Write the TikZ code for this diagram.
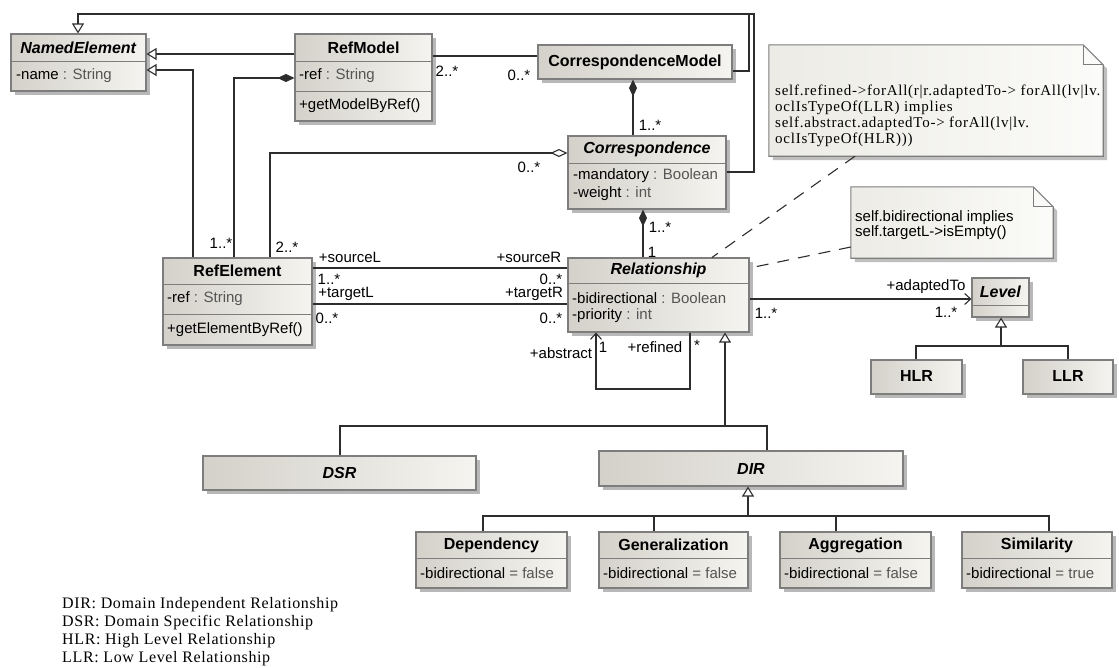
\documentclass[tikz,border=0pt]{standalone}
\usepackage{fontspec}
\setmainfont{Liberation Sans}
\newfontfamily\serifnote[LetterSpace=5]{Liberation Serif}
\newfontfamily\legendfont[LetterSpace=4]{Liberation Serif}
\usetikzlibrary{arrows.meta,shadows,fit}
\definecolor{clsA}{RGB}{212,209,202}
\definecolor{clsB}{RGB}{245,244,240}
\definecolor{noteA}{RGB}{236,235,229}
\definecolor{noteB}{RGB}{251,251,249}
\definecolor{edgec}{RGB}{125,125,125}
\definecolor{lnc}{RGB}{45,45,45}
\definecolor{typc}{RGB}{85,85,85}
\tikzset{
  cls/.style={draw=edgec, line width=1.1pt, left color=clsA, right color=clsB, inner sep=0pt,
    drop shadow={shadow xshift=4pt, shadow yshift=-4pt, fill=black!28, opacity=1}},
  notebg/.style={draw=edgec, line width=1.1pt, left color=noteA, right color=noteB,
    drop shadow={shadow xshift=4pt, shadow yshift=-4pt, fill=black!25, opacity=1}},
  fold/.style={draw=edgec, line width=1.1pt},
  divl/.style={draw=edgec, line width=1pt},
  ttl/.style={font=\fontsize{16}{18}\selectfont\bfseries, inner sep=0pt, text=black},
  attr/.style={font=\fontsize{15}{17}\selectfont, inner sep=0pt, anchor=west},
  lbl/.style={font=\fontsize{15}{17}\selectfont, inner sep=0pt},
  ntxt/.style={font=\serifnote\fontsize{15}{16}\selectfont, inner sep=0pt, anchor=west},
  ntxs/.style={font=\fontsize{15}{16}\selectfont, inner sep=0pt, anchor=west},
  lgd/.style={font=\legendfont\fontsize{16}{18}\selectfont, inner sep=0pt, anchor=west},
  conn/.style={draw=lnc, line width=1.1pt},
  gen/.style={conn, -{Triangle[fill=white, width=12pt, length=10pt]}},
  nav/.style={conn, -{Straight Barb[length=6pt, width=11pt]}},
  comp/.style={conn, {Diamond[length=17pt, width=8pt]}-},
  aggr/.style={conn, {Diamond[fill=white, length=17pt, width=8pt]}-},
  dashl/.style={draw=lnc, line width=1.1pt, dash pattern=on 12pt off 9pt},
  box/.style={inner sep=0pt}
}
\newcommand{\ty}[1]{{\color{typc}#1}}
\begin{document}
\begin{tikzpicture}[x=1pt,y=-1pt]
\fill[white] (0,0) rectangle (1119,667);
\useasboundingbox (0,0) rectangle (1119,667);

% ---------- classes ----------
% NamedElement
\node[cls, fit={(11,34) (146,91)}] (ne) {};
\draw[divl] (ne.west |- 0,61) -- (ne.east |- 0,61);
\node[ttl] (ne-t) at (78.5,47.5) {\textit{NamedElement}};
\node[attr] (ne-a) at (16,76) {-name \ty{: String}};

% RefModel
\node[cls, fit={(295,34) (432,121)}] (rm) {};
\draw[divl] (rm.west |- 0,61) -- (rm.east |- 0,61);
\draw[divl] (rm.west |- 0,91) -- (rm.east |- 0,91);
\node[ttl] (rm-t) at (363.5,47.5) {RefModel};
\node[attr] (rm-a) at (299,76) {-ref \ty{: String}};
\node[attr] (rm-o) at (299,106) {+getModelByRef()};

% CorrespondenceModel
\node[cls, fit={(538,45) (732,79)}] (cm) {};
\node[ttl] (cm-t) at (635,62) {CorrespondenceModel};

% Correspondence
\node[cls, fit={(568,136) (726,209)}] (co) {};
\draw[divl] (co.west |- 0,163) -- (co.east |- 0,163);
\node[ttl] (co-t) at (647,149.5) {\textit{Correspondence}};
\node[attr] (co-a1) at (573,176) {-mandatory \ty{: Boolean}};
\node[attr] (co-a2) at (573,194) {-weight \ty{: int}};

% RefElement
\node[cls, fit={(163,258) (312,345)}] (re) {};
\draw[divl] (re.west |- 0,284) -- (re.east |- 0,284);
\draw[divl] (re.west |- 0,314) -- (re.east |- 0,314);
\node[ttl] (re-t) at (237.5,271) {RefElement};
\node[attr] (re-a) at (167,299) {-ref \ty{: String}};
\node[attr] (re-o) at (167,330) {+getElementByRef()};

% Relationship
\node[cls, fit={(568,258) (749,332)}] (rel) {};
\draw[divl] (rel.west |- 0,283) -- (rel.east |- 0,283);
\node[ttl] (rel-t) at (658.5,270.5) {\textit{Relationship}};
\node[attr] (rel-a1) at (572,298) {-bidirectional \ty{: Boolean}};
\node[attr] (rel-a2) at (572,316) {-priority \ty{: int}};

% Level
\node[cls, fit={(972,278) (1029,317)}] (lv) {};
\draw[divl] (lv.west |- 0,305) -- (lv.east |- 0,305);
\node[ttl] (lv-t) at (1000.5,291.5) {\textit{Level}};

% HLR, LLR
\node[cls, fit={(871,360) (962,394)}] (hlr) {};
\node[ttl] (hlr-t) at (916.5,376) {HLR};
\node[cls, fit={(1023,360) (1113,394)}] (llr) {};
\node[ttl] (llr-t) at (1068,376) {LLR};

% DSR, DIR
\node[cls, fit={(203,456) (476,490)}] (dsr) {};
\node[ttl] (dsr-t) at (339.5,473) {\textit{DSR}};
\node[cls, fit={(599,451) (903,486)}] (dir) {};
\node[ttl] (dir-t) at (751,468.5) {\textit{DIR}};

% bottom row
\node[cls, fit={(416,532) (567,588)}] (dep) {};
\draw[divl] (dep.west |- 0,558) -- (dep.east |- 0,558);
\node[ttl] (dep-t) at (491.5,545) {Dependency};
\node[attr] (dep-a) at (420,573) {-bidirectional \ty{= false}};

\node[cls, fit={(599,532) (748,588)}] (gz) {};
\draw[divl] (gz.west |- 0,558) -- (gz.east |- 0,558);
\node[ttl] (gz-t) at (673.5,545) {Generalization};
\node[attr] (gz-a) at (603,573) {-bidirectional \ty{= false}};

\node[cls, fit={(780,532) (931,588)}] (ag) {};
\draw[divl] (ag.west |- 0,558) -- (ag.east |- 0,558);
\node[ttl] (ag-t) at (855.5,545) {Aggregation};
\node[attr] (ag-a) at (784,573) {-bidirectional \ty{= false}};

\node[cls, fit={(962,532) (1112,588)}] (sim) {};
\draw[divl] (sim.west |- 0,558) -- (sim.east |- 0,558);
\node[ttl] (sim-t) at (1037,545) {Similarity};
\node[attr] (sim-a) at (966,573) {-bidirectional \ty{= true}};

% ---------- notes ----------
\node[box, fit={(769,45) (1103,156)}] (n1) {};
\draw[notebg] (n1.north west) -- ([xshift=-20pt]n1.north east) -- ([yshift=-20pt]n1.north east)
  -- (n1.south east) -- (n1.south west) -- cycle;
\draw[fold] ([xshift=-20pt]n1.north east) -- ([xshift=-20pt,yshift=-20pt]n1.north east) -- ([yshift=-20pt]n1.north east);
\node[ntxt] (n1-l1) at (775,92) {self.refined->forAll(r|r.adaptedTo-> forAll(lv|lv.};
\node[ntxt] (n1-l2) at (775,108) {oclIsTypeOf(LLR) implies};
\node[ntxt] (n1-l3) at (775,124) {self.abstract.adaptedTo-> forAll(lv|lv.};
\node[ntxt] (n1-l4) at (775,140) {oclIsTypeOf(HLR)))};

\node[box, fit={(851,187) (1053,258)}] (n2) {};
\draw[notebg] (n2.north west) -- ([xshift=-20pt]n2.north east) -- ([yshift=-20pt]n2.north east)
  -- (n2.south east) -- (n2.south west) -- cycle;
\draw[fold] ([xshift=-20pt]n2.north east) -- ([xshift=-20pt,yshift=-20pt]n2.north east) -- ([yshift=-20pt]n2.north east);
\node[ntxs] (n2-l1) at (855,218) {self.bidirectional implies};
\node[ntxs] (n2-l2) at (855,233) {self.targetL->isEmpty()};

\draw[dashl] (n1.south -| 855,0) -- (rel.north -| 712,0);
\draw[dashl] (n2.west |- 0,247) -- (rel.east |- 0,268);

% ---------- connectors ----------
\draw[gen] (co.east |- 0,172) -- (754,172) -- (754,14) -- (78,14) -- (ne.north -| 78,0);
\draw[conn] (cm.east |- 0,71) -- (749,71) -- (749,14);
\draw[gen] (rm.west |- 0,54) -- (ne.east |- 0,54);
\draw[gen] (re.north -| 193,0) -- (193,70) -- (ne.east |- 0,70);
\draw[comp] (rm.west |- 0,78) -- (234,78) -- (re.north -| 234,0);
\draw[aggr] (co.west |- 0,153) -- (270,153) -- (re.north -| 270,0);
\draw[conn] (rm.east |- 0,56) -- (cm.west |- 0,56);
\draw[comp] (cm.south -| 633,0) -- (co.north -| 633,0);
\draw[comp] (co.south -| 643,0) -- (rel.north -| 643,0);
\draw[conn] (re.east |- 0,268) -- (rel.west |- 0,268);
\draw[conn] (re.east |- 0,304) -- (rel.west |- 0,304);
\draw[nav] (rel.south -| 690,0) -- (690,389) -- (596,389) -- (rel.south -| 596,0);
\draw[nav] (rel.east |- 0,299) -- (lv.west |- 0,299);
\draw[conn] (hlr.north -| 916,0) -- (916,346) -- (1068,346) -- (llr.north -| 1068,0);
\draw[gen] (1001,346) -- (lv.south -| 1001,0);
\draw[conn] (dsr.north -| 340,0) -- (340,426) -- (767,426) -- (dir.north -| 767,0);
\draw[gen] (725,426) -- (rel.south -| 725,0);
\draw[conn] (dep.north -| 483,0) -- (483,516) -- (1049,516) -- (sim.north -| 1049,0);
\draw[conn] (gz.north -| 654,0) -- (654,516);
\draw[conn] (ag.north -| 836,0) -- (836,516);
\draw[gen] (748,516) -- (dir.south -| 748,0);

% ---------- connector labels ----------
\node[lbl] (l1) at (447,71) {2..*};
\node[lbl] (l2) at (519,75) {0..*};
\node[lbl] (l3) at (650,125) {1..*};
\node[lbl] (l4) at (529,167) {0..*};
\node[lbl] (l5) at (660,227) {1..*};
\node[lbl] (l6) at (652,252) {1};
\node[lbl] (l7) at (221,243) {1..*};
\node[lbl] (l8) at (287,247) {2..*};
\node[lbl] (l9) at (350,257) {+sourceL};
\node[lbl] (l10) at (329,279) {1..*};
\node[lbl] (l11) at (346,294) {+targetL};
\node[lbl] (l12) at (327,318) {0..*};
\node[lbl] (l13) at (529,257) {+sourceR};
\node[lbl] (l14) at (551,279) {0..*};
\node[lbl] (l15) at (534,294) {+targetR};
\node[lbl] (l16) at (551,318) {0..*};
\node[lbl] (l17) at (561,353) {+abstract};
\node[lbl] (l18) at (603,347) {1};
\node[lbl] (l19) at (655,347) {+refined};
\node[lbl] (l20) at (697,345) {*};
\node[lbl] (l21) at (766,313) {1..*};
\node[lbl] (l22) at (926,287) {+adaptedTo};
\node[lbl] (l23) at (946,312) {1..*};

% ---------- legend ----------
\node[lgd] (g1) at (62,605) {DIR: Domain Independent Relationship};
\node[lgd] (g2) at (62,623) {DSR: Domain Specific Relationship};
\node[lgd] (g3) at (62,641) {HLR: High Level Relationship};
\node[lgd] (g4) at (62,659) {LLR: Low Level Relationship};
\end{tikzpicture}
\end{document}
